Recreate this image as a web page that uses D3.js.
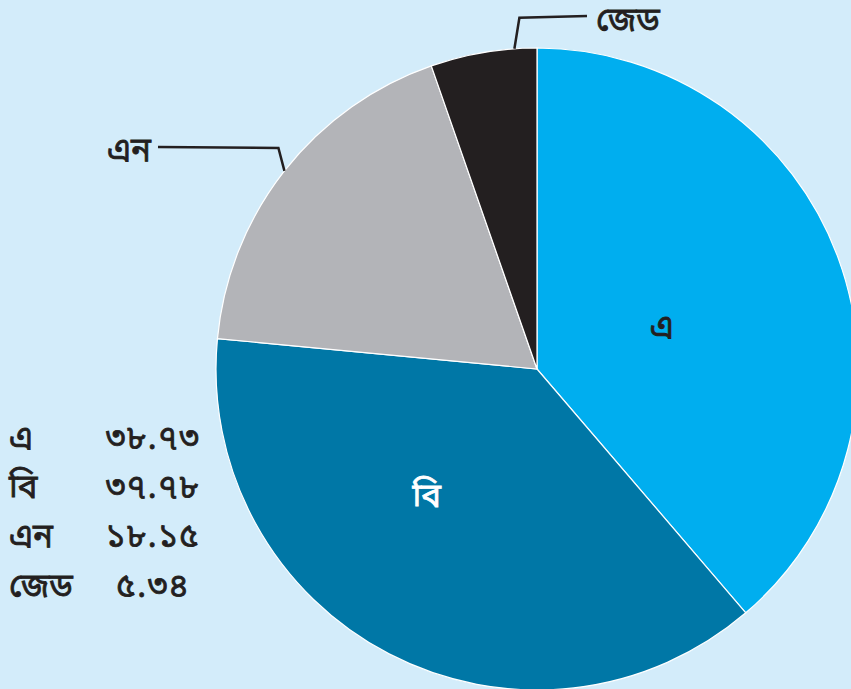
<!DOCTYPE html>
<html>
<head>
<meta charset="utf-8">
<script src="https://cdn.jsdelivr.net/npm/d3@7"></script>
<style>
  body { margin: 0; background: #d3ecfa; }
  text { font-family: "Noto Sans Bengali", "Noto Sans", sans-serif; fill: #231f20; stroke: #231f20; stroke-width: 0.8px; }
</style>
</head>
<body>
<div id="chart"></div>
<script>
var categories = ['এ', 'বি', 'এন', 'জেড'];
var values = [38.73, 37.78, 18.15, 5.34];
var valueLabels = ['৩৮.৭৩', '৩৭.৭৮', '১৮.১৫', '৫.৩৪'];
var colors = ['#00aeef', '#0077a6', '#b3b4b8', '#231f20'];

var width = 851, height = 689;
var cx = 537, cy = 369, r = 321;
var fs = '33px';

var svg = d3.select('#chart').append('svg')
    .attr('width', width)
    .attr('height', height);

svg.append('rect')
    .attr('width', width)
    .attr('height', height)
    .attr('fill', '#d3ecfa');

var data = categories.map(function(c, i) { return {name: c, value: values[i], label: valueLabels[i], color: colors[i]}; });

var pie = d3.pie().sort(null).value(function(d) { return d.value; });
var arc = d3.arc().innerRadius(0).outerRadius(r);
var arcs = pie(data);

var g = svg.append('g')
    .attr('transform', 'translate(' + cx + ',' + cy + ')');

g.selectAll('.slice')
    .data(arcs)
  .enter().append('path')
    .attr('class', 'slice')
    .attr('d', arc)
    .attr('fill', function(d) { return d.data.color; })
    .attr('stroke', '#ffffff')
    .attr('stroke-width', 1.2);

function polar(a, rad) { return [Math.sin(a) * rad, -Math.cos(a) * rad]; }
function along(d, f) { return d.startAngle + (d.endAngle - d.startAngle) * f; }

// labels inside the two big slices (position along slice, radius)
var inPos = [[0.51, 132], [0.6, 168]];
g.selectAll('.inlabel')
    .data(arcs.slice(0, 2))
  .enter().append('text')
    .attr('class', 'inlabel')
    .attr('transform', function(d, i) { return 'translate(' + polar(along(d, inPos[i][0]), inPos[i][1]) + ')'; })
    .attr('text-anchor', 'middle')
    .attr('dy', '0.35em')
    .style('font-size', fs)
    .style('fill', function(d, i) { return i === 1 ? '#ffffff' : '#231f20'; })
    .style('stroke', function(d, i) { return i === 1 ? '#ffffff' : '#231f20'; })
    .text(function(d) { return d.data.name; });

// leader lines for the small slices
var nArc = arcs[2], zArc = arcs[3];
var nP = polar(along(nArc, 0.5), r);
var nLine = [nP, [nP[0] - 6, nP[1] - 23], [158 - cx, 147 - cy]];
g.append('path')
    .attr('d', d3.line()(nLine))
    .attr('fill', 'none')
    .attr('stroke', '#231f20')
    .attr('stroke-width', 2.5);
g.append('text')
    .attr('x', 151 - cx).attr('y', 149 - cy)
    .attr('text-anchor', 'end')
    .attr('dy', '0.35em')
    .style('font-size', fs)
    .text(nArc.data.name);

var zP = polar(along(zArc, 0.79), r);
var zLine = [zP, [zP[0] + 5, zP[1] - 31], [587 - cx, 16 - cy]];
g.append('path')
    .attr('d', d3.line()(zLine))
    .attr('fill', 'none')
    .attr('stroke', '#231f20')
    .attr('stroke-width', 2.5);
g.append('text')
    .attr('x', 596 - cx).attr('y', 19 - cy)
    .attr('dy', '0.35em')
    .style('font-size', fs)
    .text(zArc.data.name);

// value table on the left
var rowY = d3.scalePoint().domain(categories).range([437, 585]);
var table = svg.append('g');
table.selectAll('.tname')
    .data(data)
  .enter().append('text')
    .attr('x', 9)
    .attr('y', function(d) { return rowY(d.name); })
    .attr('dy', '0.35em')
    .style('font-size', fs)
    .text(function(d) { return d.name; });
table.selectAll('.tval')
    .data(data)
  .enter().append('text')
    .attr('x', 153)
    .attr('y', function(d) { return rowY(d.name); })
    .attr('dy', '0.35em')
    .attr('text-anchor', 'middle')
    .style('font-size', fs)
    .style('letter-spacing', '1.5px')
    .text(function(d) { return d.label; });
</script>
</body>
</html>
